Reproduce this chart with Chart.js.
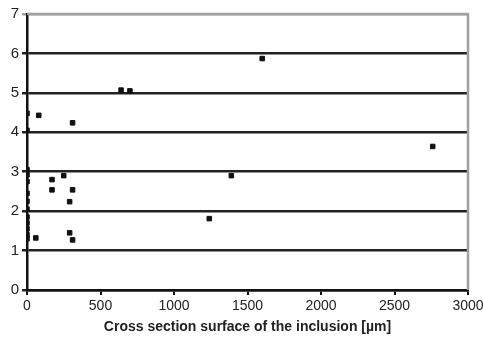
<!DOCTYPE html>
<html>
<head>
<meta charset="utf-8">
<script src="https://cdn.jsdelivr.net/npm/chart.js@4/dist/chart.umd.min.js"></script>
<style>
html,body{margin:0;padding:0;background:#fff;}
#wrap{width:483px;height:352px;}
</style>
</head>
<body>
<div id="wrap"><canvas id="c" width="483" height="352"></canvas></div>
<script>
const xValues = [0, 0, 0, 0, 0, 0, 0, 0, 0, 0, 0, 0, 0, 80, 310, 640, 700, 170, 250, 170, 310, 290, 290, 310, 60, 1600, 2760, 1390, 1240];
const yValues = [4.48, 4.05, 3.05, 2.92, 2.75, 2.45, 2.25, 2.05, 1.85, 1.7, 1.55, 1.4, 1.3, 4.43, 4.24, 5.07, 5.05, 2.8, 2.9, 2.54, 2.54, 2.24, 1.45, 1.27, 1.32, 5.87, 3.64, 2.9, 1.81];
const xTicks = [0, 500, 1000, 1500, 2000, 2500, 3000];
const yTicks = [0, 1, 2, 3, 4, 5, 6, 7];
const xTitle = 'Cross section surface of the inclusion [µm]';

const points = xValues.map((x, i) => ({x: x, y: yValues[i]}));

const frame = {
  id: 'frame',
  beforeDatasetsDraw(chart) {
    const a = chart.chartArea, ctx = chart.ctx;
    ctx.save();
    ctx.strokeStyle = '#a0a0a0';
    ctx.lineWidth = 2.5;
    ctx.beginPath();
    ctx.moveTo(a.left, a.top);
    ctx.lineTo(a.right, a.top);
    ctx.lineTo(a.right, a.bottom);
    ctx.stroke();
    ctx.restore();
  }
};

new Chart(document.getElementById('c'), {
  type: 'scatter',
  data: {
    datasets: [{
      data: points,
      pointStyle: 'rect',
      radius: 3.2,
      borderWidth: 1,
      backgroundColor: '#111',
      borderColor: '#111'
    }]
  },
  options: {
    responsive: false,
    animation: false,
    devicePixelRatio: 1,
    layout: {padding: {top: 14, right: 15, left: 0, bottom: 16}},
    plugins: {legend: {display: false}, tooltip: {enabled: false}},
    scales: {
      x: {
        type: 'linear', min: 0, max: 3000,
        afterBuildTicks(s) { s.ticks = xTicks.map(v => ({value: v})); },
        afterFit(s) { s.height = 46; s.paddingRight = 0; s.paddingLeft = 0; },
        grid: {drawOnChartArea: false, drawTicks: true, tickLength: 5, color: '#111', lineWidth: 2},
        border: {color: '#111', width: 2.5},
        ticks: {color: '#222', font: {family: 'Liberation Sans', size: 14}, padding: 3, maxRotation: 0, callback: v => String(v)},
        title: {display: true, text: xTitle, color: '#222', font: {family: 'Liberation Sans', size: 14, weight: 'bold'}, padding: {top: 4, bottom: 0}}
      },
      y: {
        type: 'linear', min: 0, max: 7,
        afterBuildTicks(s) { s.ticks = yTicks.map(v => ({value: v})); },
        afterFit(s) { s.width = 27; s.paddingTop = 0; s.paddingBottom = 0; },
        grid: {drawTicks: true, tickLength: 5, lineWidth: 2.5, color: ctx => (ctx.tick && ctx.tick.value === 7) ? '#a0a0a0' : '#222'},
        border: {color: '#111', width: 2.5},
        ticks: {color: '#222', font: {family: 'Liberation Sans', size: 15}, padding: 3, callback: v => String(v)}
      }
    }
  },
  plugins: [frame]
});
</script>
</body>
</html>
